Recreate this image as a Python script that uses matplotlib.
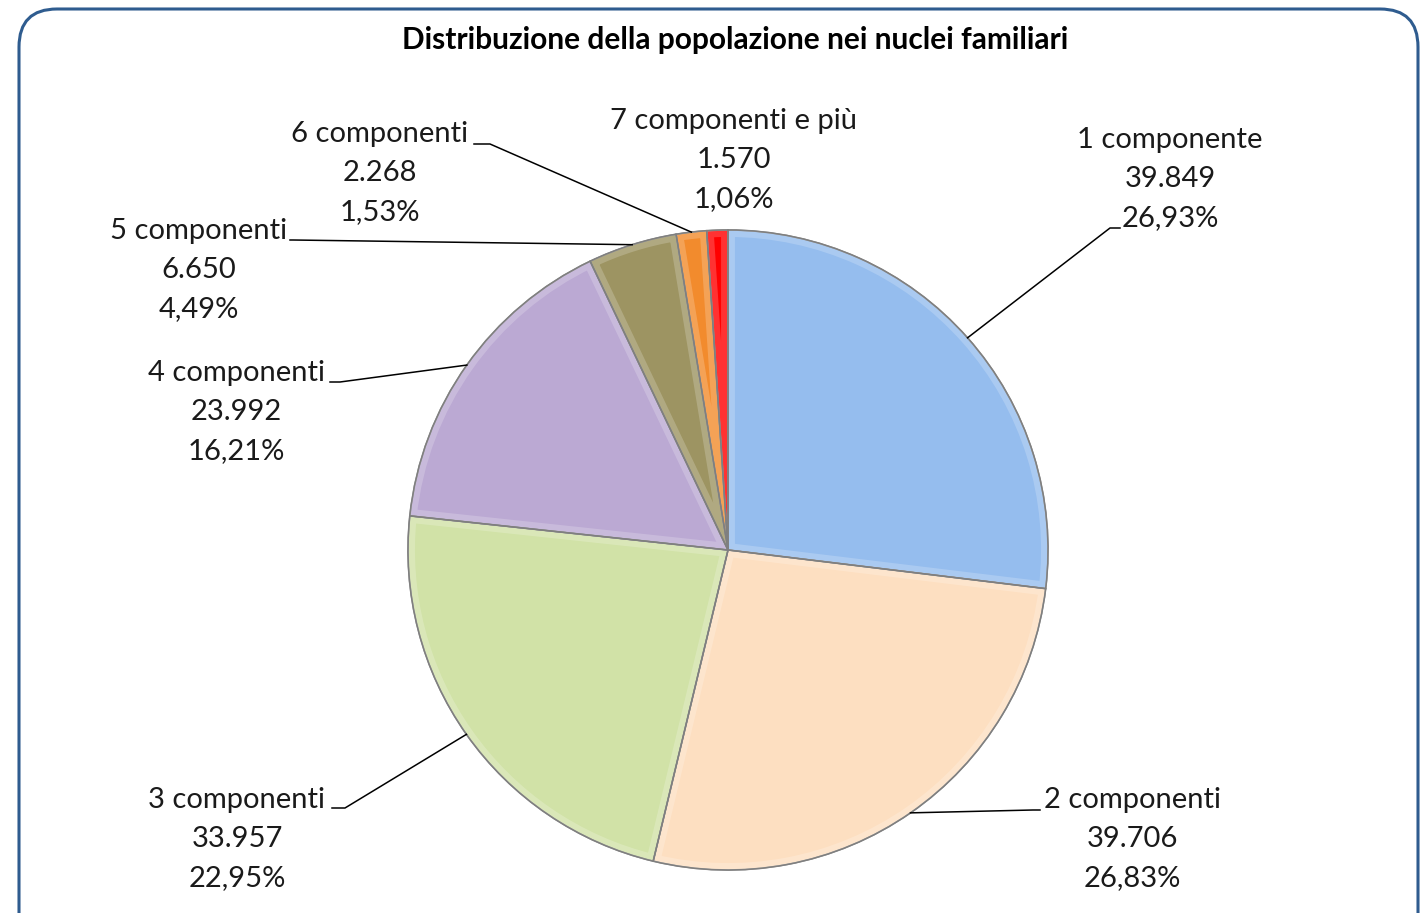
import numpy as np
import matplotlib.pyplot as plt
from matplotlib.patches import FancyBboxPatch, Wedge

plt.rcParams['font.family'] = ['Lato', 'DejaVu Sans']

W, H = 1426, 913

title = 'Distribuzione della popolazione nei nuclei familiari'
categories = ['1 componente', '2 componenti', '3 componenti', '4 componenti',
              '5 componenti', '6 componenti', '7 componenti e più']
values = [39849, 39706, 33957, 23992, 6650, 2268, 1570]
value_labels = ['39.849', '39.706', '33.957', '23.992', '6.650', '2.268', '1.570']
pct_labels = ['26,93%', '26,83%', '22,95%', '16,21%', '4,49%', '1,53%', '1,06%']
colors = ['#95BDEE', '#FDDFC1', '#D1E2A7', '#BBA9D3', '#9D9462', '#F28B2D', '#FF0000']

# label layout in pixels (center of text block top line), leader knee
label_pos = [(1170, 140), (1132, 800), (237, 800), (236, 373), (199, 231), (380, 134), (734, 121)]
knee_pos = [(1110, 228), (1033, 810), (345, 808), (340, 382), (293, 240), (490, 144), None]
knee_end = [(1120, 228), (1040, 810), (332, 808), (330, 382), (290, 240), (474, 144), None]

cx, cy, R = 728, 550, 320


def py(y):
    return H - y


fig = plt.figure(figsize=(W / 100, H / 100), dpi=100)
ax = fig.add_axes([0, 0, 1, 1])

border = FancyBboxPatch((19, -40), 1399, py(9) + 40, boxstyle='round,pad=0,rounding_size=38',
                        fc='white', ec='#2F5C8F', lw=2.2, zorder=0)
ax.add_patch(border)

wedges, _ = ax.pie(values, colors=colors, startangle=90, counterclock=False,
                   center=(cx, py(cy)), radius=R, frame=True,
                   wedgeprops=dict(edgecolor='#8A8A8A', linewidth=1.2))
ax.set_xlim(0, W)
ax.set_ylim(0, H)
ax.set_aspect('equal')
ax.axis('off')

# soft bevel along slice borders
for w in wedges:
    bev = Wedge(w.center, w.r, w.theta1, w.theta2, fill=False, ec='white', lw=10, alpha=0.2,
                zorder=w.get_zorder() + 0.1)
    ax.add_patch(bev)
    bev.set_clip_path(w)
    edge = Wedge(w.center, w.r, w.theta1, w.theta2, fill=False, ec='#7F7F7F', lw=1.0,
                 zorder=w.get_zorder() + 0.2)
    ax.add_patch(edge)

total = sum(values)
cum = 0.0
for i, v in enumerate(values):
    mid = 90 - 360 * (cum + v / 2) / total
    cum += v
    ax_x = cx + R * np.cos(np.radians(mid))
    ax_y = py(cy) + R * np.sin(np.radians(mid))
    lx, ly = label_pos[i]
    lines = [categories[i], value_labels[i], pct_labels[i]]
    for j, s in enumerate(lines):
        ax.text(lx, py(ly + j * 39), s, ha='center', va='center', fontsize=21, color='#1a1a1a')
    if knee_pos[i] is not None:
        kx, ky = knee_pos[i]
        ex, ey = knee_end[i]
        ax.plot([ax_x, kx, ex], [ax_y, py(ky), py(ey)], color='black', lw=1.1)

ax.text(735, py(40), title, ha='center', va='center', fontsize=21.5, fontweight='bold', color='black')

fig.savefig('out.png', dpi=100)
